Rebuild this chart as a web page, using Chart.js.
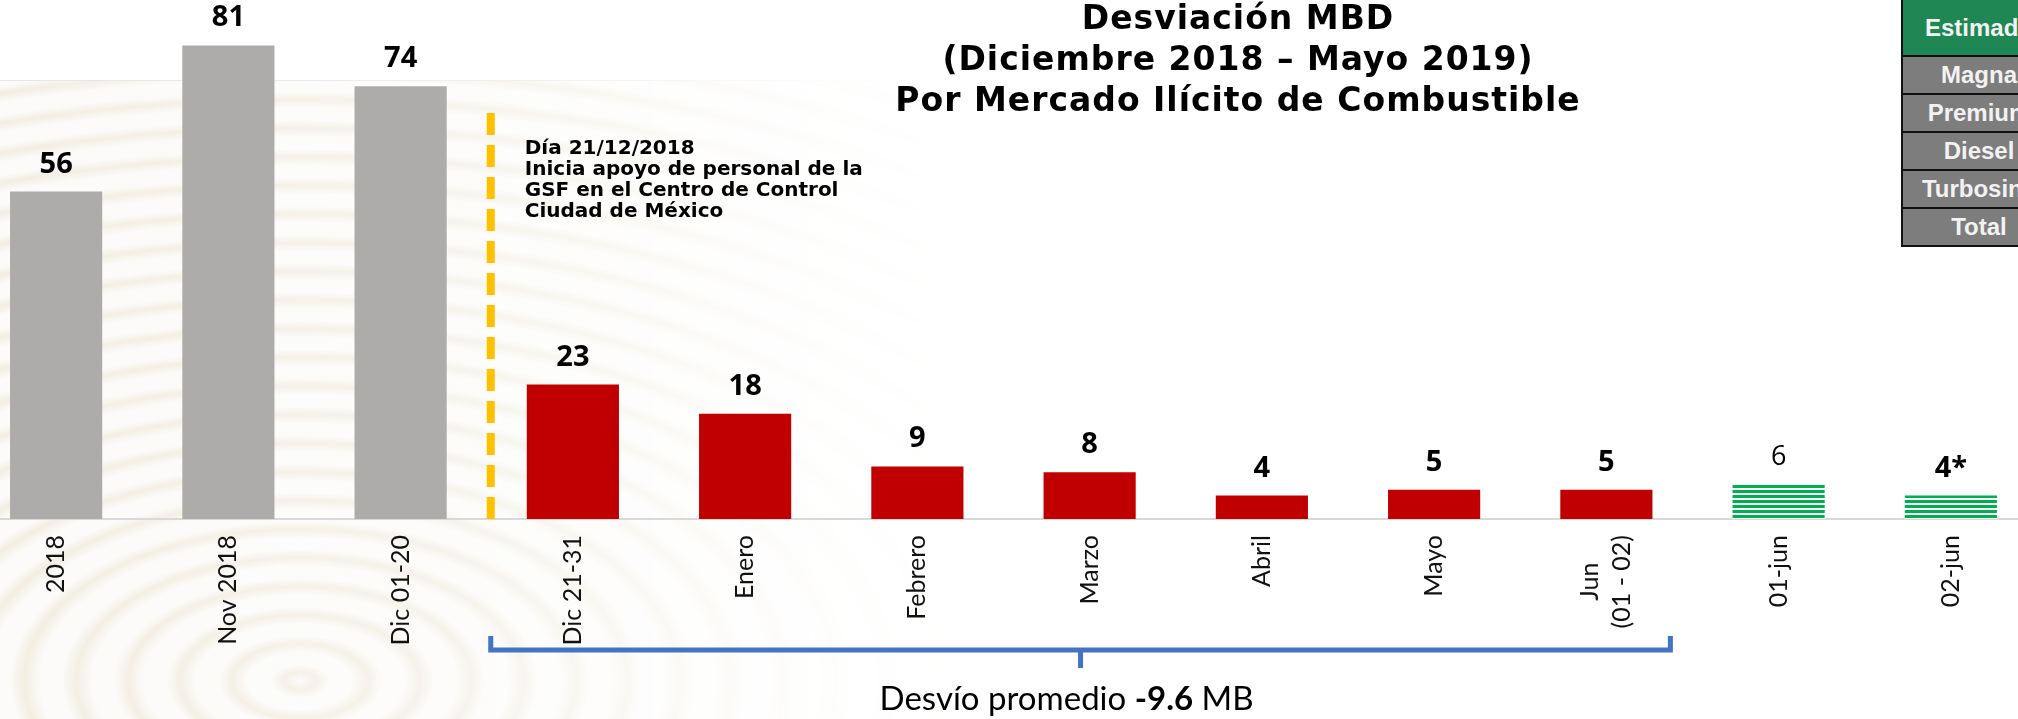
<!DOCTYPE html>
<html>
<head>
<meta charset="utf-8">
<script src="https://cdn.jsdelivr.net/npm/chart.js@4.4.1/dist/chart.umd.min.js"></script>
<style>
  html, body { margin: 0; padding: 0; }
  body { width: 2018px; height: 719px; overflow: hidden; position: relative; background: #fff; }
  #marca {
    position: absolute; left: 0; top: 80px; width: 967px; height: 639px;
    border-top: 1px solid #e6e6e6;
    background-color: #fcfbf9;
    background-image:
      repeating-radial-gradient(ellipse 120% 100% at 300px 600px, rgba(236,229,211,0) 0px, rgba(236,229,211,0.6) 16px, rgba(236,229,211,0) 30px, rgba(236,229,211,0) 52px);
    -webkit-mask-image: linear-gradient(to right, #000 0%, rgba(0,0,0,0.8) 40%, rgba(0,0,0,0.1) 85%, rgba(0,0,0,0) 100%);
  }
  #wrap { position: absolute; left: -30px; top: 0; width: 2067px; height: 719px; }
  #titulo { position: absolute; left: 788px; top: -3px; width: 900px; text-align: center;
    font-family: "DejaVu Sans"; font-weight: bold; font-size: 33px; line-height: 41px; letter-spacing: 1px; color: #000; }
  #tabla { position: absolute; left: 1901px; top: 0; width: 152px; border-left: 2px solid #111;
    font-family: "Liberation Sans", Arial; font-weight: bold; font-size: 24px; color: #f2f2f2; text-align: center; }
  #tabla div { box-sizing: border-box; border-bottom: 2px solid #111; height: 38px; line-height: 36px; background: #7d7d7d; }
  #tabla div.enc { height: 57px; line-height: 55px; background: #1f8754; }
</style>
</head>
<body>
<div id="marca"></div>
<div id="wrap"><canvas id="grafica" width="2067" height="719"></canvas></div>
<div id="titulo"></div>
<div id="tabla"></div>
<script>
// categorias del eje x
const categorias = ['2018', 'Nov 2018', 'Dic 01-20', 'Dic 21-31', 'Enero', 'Febrero', 'Marzo',
  'Abril', 'Mayo', ['Jun', '(01 - 02)'], '01-jun', '02-jun'];
// desviacion en MBD
const desviacion = [56, 81, 74, 23, 18, 9, 8, 4, 5, 5, 6, 4];
// texto sobre cada barra
const etiquetas = ['56', '81', '74', '23', '18', '9', '8', '4', '5', '5', '6', '4*'];

const titulo = ['Desviación MBD', '(Diciembre 2018 – Mayo 2019)', 'Por Mercado Ilícito de Combustible'];
const nota = ['Día 21/12/2018', 'Inicia apoyo de personal de la', 'GSF en el Centro de Control', 'Ciudad de México'];
const tablaEstimado = ['Estimado', 'Magna', 'Premium', 'Diesel', 'Turbosina', 'Total'];

// titulo y tabla
titulo.forEach(t => {
    const d = document.createElement('div');
    d.textContent = t;
    document.getElementById('titulo').appendChild(d);
});
tablaEstimado.forEach((t, i) => {
    const d = document.createElement('div');
    d.textContent = t;
    if (i === 0) d.className = 'enc';
    document.getElementById('tabla').appendChild(d);
});

// barras verdes rayadas
function rayas() {
    const c = document.createElement('canvas');
    c.width = 4; c.height = 5;
    const g = c.getContext('2d');
    g.fillStyle = '#ffffff';
    g.fillRect(0, 0, 4, 5);
    g.fillStyle = '#00b050';
    g.fillRect(0, 0, 4, 3);
    return g.createPattern(c, 'repeat');
}
const verde = rayas();
const colores = desviacion.map((v, i) => i < 3 ? '#aeabab' : (i < 10 ? '#c00000' : verde));

// etiquetas, linea punteada, nota y llave
const extras = {
    id: 'extras',
    afterDatasetsDraw(chart) {
        const ctx = chart.ctx;
        const sx = chart.scales.x;
        const base = chart.chartArea.bottom;
        const bars = chart.getDatasetMeta(0).data;

        ctx.save();
        ctx.textAlign = 'center';
        ctx.textBaseline = 'alphabetic';
        ctx.fillStyle = '#000';
        bars.forEach((b, i) => {
            ctx.font = i === 10 ? '400 27px "Open Sans"' : '700 29px "Open Sans"';
            ctx.fillText(etiquetas[i], b.x, b.y - 19);
        });

        // etiquetas del eje x, giradas
        ctx.font = '400 25px Lato';
        ctx.fillStyle = '#111';
        ctx.textBaseline = 'middle';
        const lh = 32;
        categorias.forEach((c, i) => {
            const lineas = Array.isArray(c) ? c : [c];
            const px = sx.getPixelForValue(i);
            const largo = Math.max(...lineas.map(l => ctx.measureText(l).width));
            lineas.forEach((l, j) => {
                ctx.save();
                ctx.translate(px - (lineas.length - 1) * lh / 2 + j * lh, base + 16 + largo / 2);
                ctx.rotate(-Math.PI / 2);
                ctx.textAlign = 'center';
                ctx.fillText(l, 0, 0);
                ctx.restore();
            });
        });
        ctx.textBaseline = 'alphabetic';
        ctx.fillStyle = '#000';

        // linea punteada amarilla
        const xl = (sx.getPixelForValue(2) + sx.getPixelForValue(3)) / 2 + 4;
        ctx.strokeStyle = '#ffc000';
        ctx.lineWidth = 8;
        ctx.setLineDash([22, 10]);
        ctx.beginPath();
        ctx.moveTo(xl, 113);
        ctx.lineTo(xl, base);
        ctx.stroke();
        ctx.setLineDash([]);

        // nota
        ctx.textAlign = 'left';
        ctx.font = 'bold 20px "DejaVu Sans"';
        nota.forEach((t, i) => ctx.fillText(t, xl + 34, 154 + i * 21));

        // llave azul
        const xr = sx.getPixelForValue(9) + 64;
        const xm = (xl + xr) / 2;
        ctx.strokeStyle = '#4472c4';
        ctx.lineWidth = 5;
        ctx.beginPath();
        ctx.moveTo(xl, base + 117);
        ctx.lineTo(xl, base + 131);
        ctx.lineTo(xr, base + 131);
        ctx.lineTo(xr, base + 117);
        ctx.moveTo(xm, base + 131);
        ctx.lineTo(xm, base + 149);
        ctx.stroke();

        // desvio promedio
        const partes = [['Desvío promedio ', '400'], ['-9.6', '700'], [' MB', '400']];
        let total = 0;
        partes.forEach(p => { ctx.font = p[1] + ' 33px Lato'; total += ctx.measureText(p[0]).width; });
        let xt = xm - 14 - total / 2;
        partes.forEach(p => {
            ctx.font = p[1] + ' 33px Lato';
            ctx.fillText(p[0], xt, base + 191);
            xt += ctx.measureText(p[0]).width;
        });
        ctx.restore();
    }
};

new Chart(document.getElementById('grafica'), {
    type: 'bar',
    data: {
        labels: categorias,
        datasets: [{
            data: desviacion,
            backgroundColor: colores,
            borderWidth: 0,
            categoryPercentage: 1,
            barPercentage: 0.535
        }]
    },
    options: {
        responsive: false,
        animation: false,
        events: [],
        layout: { padding: { top: 22, left: 0, right: 0, bottom: 0 } },
        plugins: { legend: { display: false }, tooltip: { enabled: false } },
        scales: {
            x: {
                grid: { display: false, drawTicks: false },
                border: { display: true, color: '#d9d9d9', width: 2 },
                ticks: { display: false },
                afterFit(scale) { scale.height = 200; }
            },
            y: { display: false, min: 0, max: 85 }
        }
    },
    plugins: [extras]
});
</script>
</body>
</html>
